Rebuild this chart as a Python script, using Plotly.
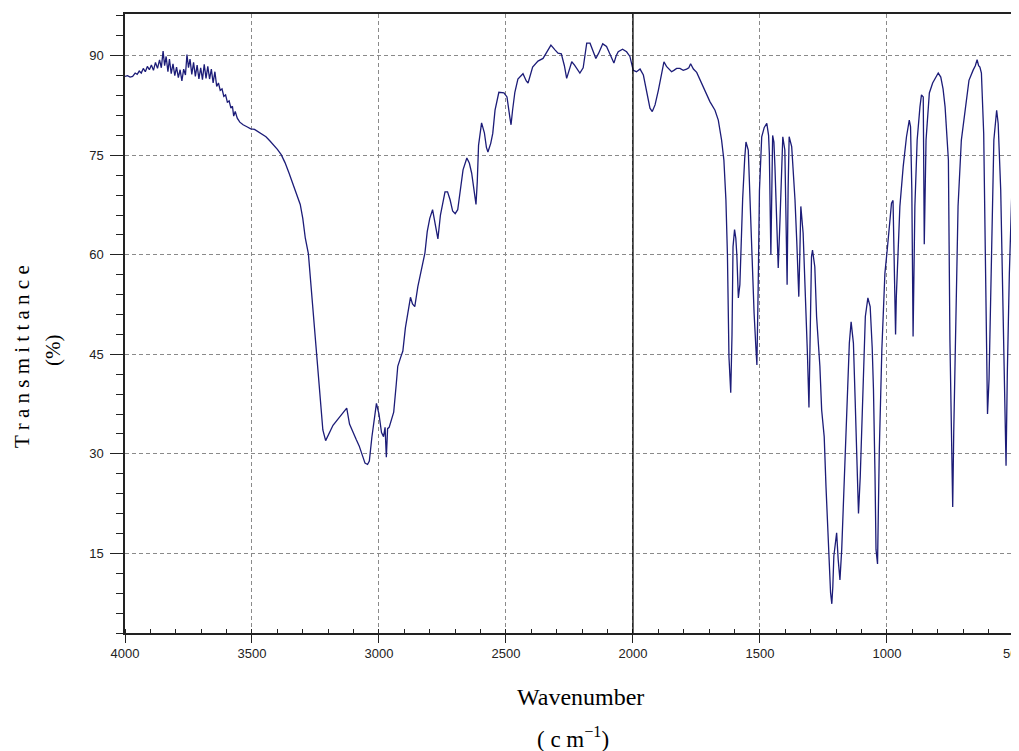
import plotly.graph_objects as go

# Wavenumber (cm-1) and transmittance (%)
wavenumber = [
    4000, 3990, 3980, 3970, 3960, 3952, 3944, 3936, 3928, 3920, 3912, 3904, 3896, 3888, 3880, 3872,
    3864, 3857, 3850, 3844, 3838, 3831, 3825, 3818, 3811, 3804, 3797, 3790, 3783, 3776, 3769, 3762,
    3756, 3750, 3744, 3737, 3730, 3723, 3716, 3709, 3702, 3695, 3688, 3681, 3674, 3667, 3660, 3653,
    3646, 3639, 3632, 3625, 3618, 3611, 3604, 3597, 3590, 3583, 3577, 3572, 3566, 3558, 3548, 3535,
    3520, 3505, 3490, 3475, 3460, 3445, 3430, 3415, 3400, 3385, 3370, 3355, 3340, 3325, 3310, 3300,
    3290, 3278, 3262, 3246, 3234, 3221, 3210, 3200, 3181, 3160, 3140, 3127, 3116, 3107, 3090, 3078,
    3066, 3055, 3045, 3038, 3028, 3010, 3000, 2990, 2982, 2976, 2971, 2966, 2960, 2950, 2942, 2932,
    2926, 2915, 2906, 2896, 2886, 2876, 2868, 2859, 2847, 2835, 2819, 2810, 2800, 2789, 2778, 2768,
    2758, 2750, 2740, 2730, 2720, 2710, 2700, 2690, 2680, 2669, 2654, 2644, 2635, 2625, 2618, 2613,
    2608, 2596, 2585, 2577, 2571, 2560, 2552, 2543, 2528, 2508, 2496, 2485, 2480, 2474, 2465, 2453,
    2433, 2420, 2413, 2395, 2374, 2354, 2339, 2323, 2307, 2295, 2282, 2270, 2261, 2250, 2241, 2230,
    2220, 2209, 2196, 2188, 2182, 2169, 2158, 2146, 2135, 2127, 2119, 2104, 2088, 2075, 2066, 2058,
    2041, 2025, 2012, 2004, 1999, 1986, 1972, 1959, 1946, 1938, 1933, 1924, 1913, 1900, 1889, 1878,
    1868, 1857, 1848, 1839, 1828, 1815, 1802, 1789, 1780, 1773, 1762, 1749, 1736, 1723, 1710, 1697,
    1677, 1664, 1651, 1642, 1634, 1628, 1622, 1615, 1610, 1606, 1600, 1595, 1591, 1585, 1579, 1574,
    1568, 1560, 1555, 1546, 1539, 1532, 1523, 1516, 1512, 1507, 1502, 1493, 1483, 1473, 1466, 1463,
    1457, 1450, 1445, 1441, 1434, 1428, 1421, 1416, 1410, 1402, 1398, 1393, 1389, 1385, 1375, 1368,
    1362, 1355, 1347, 1343, 1339, 1330, 1319, 1313, 1307, 1302, 1297, 1293, 1284, 1277, 1264, 1257,
    1251, 1247, 1240, 1231, 1222, 1217, 1213, 1209, 1198, 1192, 1185, 1178, 1171, 1165, 1156, 1148,
    1141, 1132, 1125, 1119, 1112, 1105, 1095, 1085, 1075, 1066, 1058, 1053, 1047, 1043, 1037, 1030,
    1020, 1008, 999, 995, 982, 976, 972, 966, 963, 956, 949, 936, 923, 912, 907, 902,
    897, 890, 881, 870, 864, 857, 853, 846, 833, 820, 811, 798, 788, 779, 771, 764,
    758, 752, 745, 741, 737, 729, 720, 707, 690, 677, 661, 652, 645, 639, 634, 628,
    619, 611, 604, 598, 588, 579, 568, 562, 552, 542, 535, 531, 526, 518, 508, 499,
    491, 486, 480,
]

transmittance = [
    86.9, 87.0, 86.8, 86.9, 87.4, 87.2, 87.7, 87.4, 88.1, 87.6, 88.4, 87.9, 88.6, 87.8, 89.0, 88.1,
    89.4, 88.2, 90.7, 88.5, 89.9, 87.6, 89.5, 87.3, 88.8, 87.0, 88.3, 86.7, 87.9, 86.2, 88.0, 87.1,
    90.2, 88.2, 89.5, 87.2, 89.0, 86.9, 88.6, 86.5, 88.2, 86.4, 88.7, 86.6, 88.4, 86.5, 88.0, 85.9,
    87.6, 85.4, 85.9, 84.8, 85.0, 83.9, 84.1, 83.0, 83.2, 82.1, 82.4, 80.9, 81.6, 80.6, 80.0, 79.6,
    79.3, 79.0, 78.9, 78.5, 78.2, 77.8, 77.2, 76.6, 75.9, 75.1, 73.9, 72.4, 70.8, 69.2, 67.6, 65.5,
    62.5, 60.2, 52.5, 45.2, 38.5, 33.6, 32.0, 32.8, 34.3, 35.3, 36.2, 36.9, 34.5, 33.6, 32.2, 31.2,
    29.8, 28.6, 28.4, 28.9, 32.5, 37.6, 36.0, 33.2, 32.6, 34.0, 29.5, 33.8, 34.0, 35.2, 36.3, 40.5,
    43.2, 44.5, 45.5, 49.0, 51.7, 53.6, 52.6, 52.2, 55.2, 57.5, 60.3, 63.5, 65.5, 66.8, 64.2, 62.4,
    66.0, 67.8, 69.5, 69.5, 68.3, 66.6, 66.2, 66.8, 70.0, 72.8, 74.6, 73.8, 72.3, 69.5, 67.6, 71.0,
    76.5, 79.9, 78.4, 76.2, 75.5, 76.8, 78.3, 81.8, 84.5, 84.4, 83.8, 80.8, 79.6, 81.8, 84.5, 86.5,
    87.3, 86.2, 85.9, 88.3, 89.2, 89.6, 90.6, 91.6, 90.9, 90.4, 90.3, 88.5, 86.6, 88.0, 89.1, 88.6,
    88.1, 87.4, 88.2, 90.6, 91.9, 91.9, 90.8, 89.6, 90.4, 91.2, 91.8, 91.4, 90.1, 88.9, 90.0, 90.6,
    91.0, 90.6, 89.9, 88.7, 87.8, 87.6, 88.0, 87.1, 84.8, 82.9, 82.1, 81.6, 82.6, 84.8, 87.0, 89.1,
    88.4, 88.0, 87.6, 87.8, 88.1, 88.1, 87.8, 88.0, 88.2, 88.8, 88.0, 87.5, 86.4, 85.3, 84.4, 83.1,
    81.8, 80.3, 77.3, 74.3, 68.3, 60.0, 44.6, 39.2, 48.0, 61.2, 63.8, 62.5, 60.0, 53.5, 55.5, 62.0,
    68.5, 74.5, 77.0, 75.8, 68.0, 60.5, 51.2, 46.0, 43.4, 55.0, 69.7, 77.8, 79.2, 79.8, 78.0, 75.3,
    60.0, 78.0, 77.0, 73.3, 65.0, 58.0, 65.3, 72.0, 77.8, 75.8, 67.0, 55.5, 70.0, 77.8, 76.3, 72.0,
    68.3, 62.0, 53.7, 60.0, 67.3, 63.3, 53.2, 45.0, 37.0, 48.0, 59.7, 60.7, 58.2, 50.7, 43.2, 36.6,
    33.6, 32.6, 25.1, 17.1, 9.1, 7.4, 10.0, 14.6, 18.1, 14.1, 11.0, 15.6, 23.0, 30.6, 40.6, 46.7,
    49.9, 46.7, 38.0, 30.6, 21.0, 26.6, 40.7, 50.7, 53.5, 52.2, 46.0, 39.7, 27.0, 15.6, 13.4, 30.6,
    45.7, 57.2, 60.7, 62.7, 67.8, 68.2, 59.2, 48.0, 53.7, 60.5, 67.3, 73.3, 77.8, 80.3, 79.3, 69.8,
    47.7, 67.3, 77.3, 82.3, 84.1, 83.8, 61.6, 77.3, 84.4, 85.9, 86.6, 87.4, 86.8, 85.0, 82.3, 78.5,
    74.3, 47.2, 27.1, 22.0, 33.2, 47.2, 67.3, 77.3, 82.8, 86.3, 87.8, 88.5, 89.4, 88.5, 88.3, 87.4,
    78.3, 53.2, 36.0, 41.2, 62.2, 77.3, 81.8, 79.8, 69.8, 49.2, 37.1, 28.2, 42.2, 57.2, 69.8, 78.3,
    79.3, 77.3, 70.0,
]

x_ticks = [4000, 3500, 3000, 2500, 2000, 1500, 1000, 500]
y_ticks = [15, 30, 45, 60, 75, 90]

fig = go.Figure()
fig.add_trace(go.Scatter(
    x=wavenumber, y=transmittance, mode="lines",
    line=dict(color="#1c1c78", width=1.3), showlegend=False,
))

fig.add_shape(type="line", xref="x", yref="paper", x0=2000, x1=2000, y0=0, y1=1,
              line=dict(color="black", width=1.3), layer="above")

tickfont = dict(family="Liberation Sans, Arial, sans-serif", size=13, color="#222")
serif = "Liberation Serif, Times New Roman, serif"

fig.update_layout(
    width=1011, height=743,
    margin=dict(l=117, r=0, t=6, b=118),
    paper_bgcolor="white", plot_bgcolor="white",
    xaxis=dict(
        range=[4000, 480], tickvals=x_ticks, ticktext=[str(v) for v in x_ticks],
        ticks="outside", ticklen=8, tickwidth=1.3, tickcolor="#222",
        showline=True, linecolor="#222", linewidth=1.5, mirror=True,
        showgrid=True, gridcolor="#8a8a8a", gridwidth=1, griddash="4px,3px",
        zeroline=False, tickfont=tickfont, automargin=False, ticklabelstandoff=0,
        ticklabeloverflow="allow",
        minor=dict(dtick=100, tick0=0, ticks="inside", ticklen=4, tickwidth=1.3,
                   tickcolor="#222", showgrid=False),
    ),
    yaxis=dict(
        range=[3, 96.3], tickvals=y_ticks, ticktext=[str(v) for v in y_ticks],
        ticks="outside", ticklen=13, tickwidth=1.3, tickcolor="#222",
        showline=True, linecolor="#222", linewidth=1.5, mirror=False,
        showgrid=True, gridcolor="#8a8a8a", gridwidth=1, griddash="4px,3px",
        zeroline=False, tickfont=tickfont, automargin=False, ticklabelstandoff=4,
        minor=dict(dtick=3, tick0=0, ticks="outside", ticklen=7, tickwidth=1.3,
                   tickcolor="#222", showgrid=False),
    ),
    annotations=[
        dict(text="T r a n s m i t t a n c e", xref="paper", yref="paper",
             x=-0.1152, y=0.4459, xanchor="center", yanchor="middle", textangle=-90,
             showarrow=False, font=dict(family=serif, size=21, color="black")),
        dict(text="(%)", xref="paper", yref="paper",
             x=-0.0805, y=0.4556, xanchor="center", yanchor="middle", textangle=-90,
             showarrow=False, font=dict(family=serif, size=21, color="black")),
        dict(text="Wavenumber", xref="paper", yref="paper",
             x=0.509, y=-0.1034, xanchor="center", yanchor="middle",
             showarrow=False, font=dict(family=serif, size=24, color="black")),
        dict(text="( c m<sup>\u22121</sup>)", xref="paper", yref="paper",
             x=0.501, y=-0.1696, xanchor="center", yanchor="middle",
             showarrow=False, font=dict(family=serif, size=23, color="black")),
    ],
)

fig.write_html("out.html")
